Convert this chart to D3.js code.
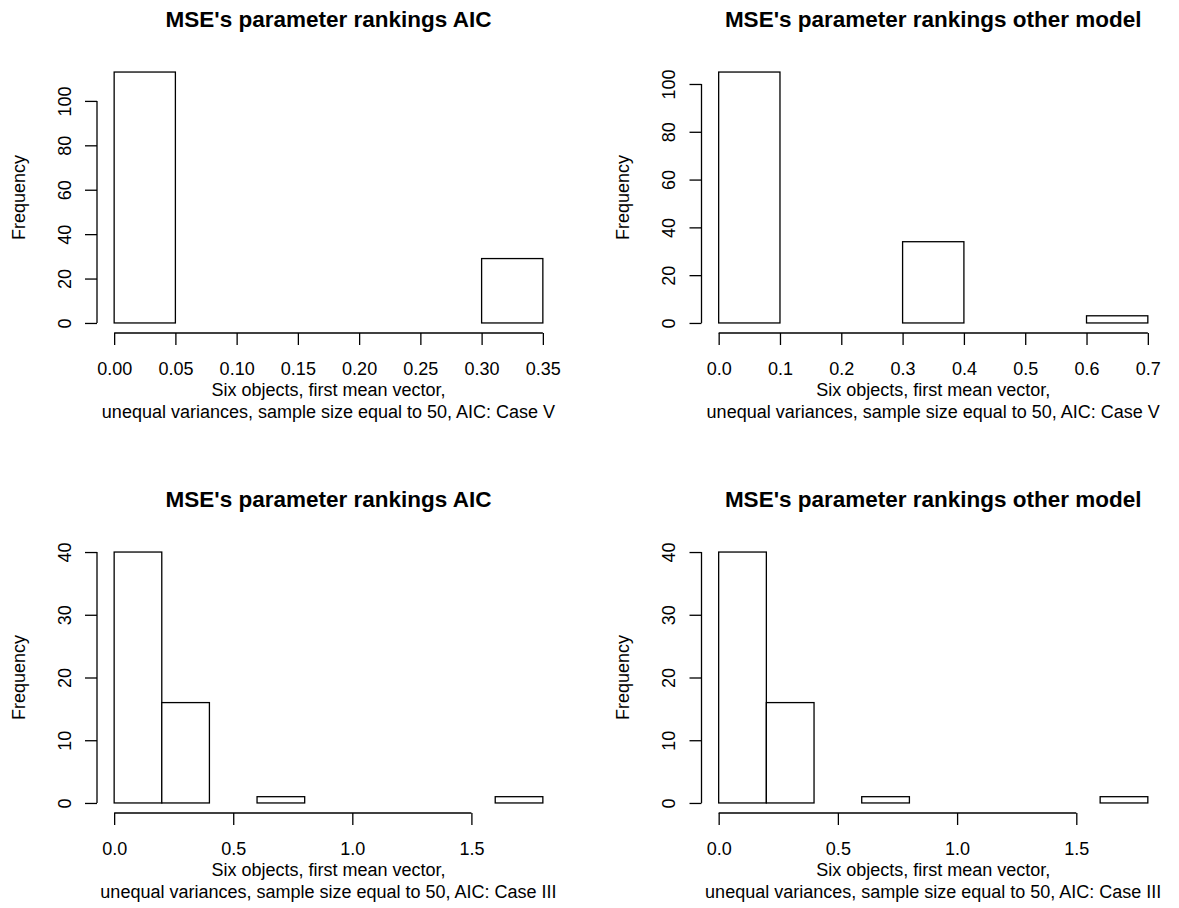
<!DOCTYPE html>
<html>
<head>
<meta charset="utf-8">
<script src="https://cdn.jsdelivr.net/npm/d3@7"></script>
<style>
  html, body { margin: 0; padding: 0; background: #ffffff; }
  svg { display: block; }
  text { font-family: "Liberation Sans", Arial, sans-serif; fill: #000; }
</style>
</head>
<body>
<svg id="chart" width="1179" height="908"></svg>
<script>
// Histogram bin edges and counts for each panel
const breaksAIC_V   = [0, 0.05, 0.10, 0.15, 0.20, 0.25, 0.30, 0.35];
const countsAIC_V   = [113, 0, 0, 0, 0, 0, 29];
const breaksOther_V = [0, 0.1, 0.2, 0.3, 0.4, 0.5, 0.6, 0.7];
const countsOther_V = [105, 0, 0, 34, 0, 0, 3];
const breaksIII     = [0, 0.2, 0.4, 0.6, 0.8, 1.0, 1.2, 1.4, 1.6, 1.8];
const countsAIC_III   = [40, 16, 0, 1, 0, 0, 0, 0, 1];
const countsOther_III = [40, 16, 0, 1, 0, 0, 0, 0, 1];

// Axis tick values and labels
const xTicksV1 = [0, 0.05, 0.10, 0.15, 0.20, 0.25, 0.30, 0.35];
const xTicksV2 = [0, 0.1, 0.2, 0.3, 0.4, 0.5, 0.6, 0.7];
const xTicksIII = [0, 0.5, 1.0, 1.5];
const yTicksV = [0, 20, 40, 60, 80, 100];
const yTicksIII = [0, 10, 20, 30, 40];

const titleAIC = "MSE's parameter rankings AIC";
const titleOther = "MSE's parameter rankings other model";
const xLabelLine1 = "Six objects, first mean vector,";
const xLabelV = "unequal variances, sample size equal to 50, AIC: Case V";
const xLabelIII = "unequal variances, sample size equal to 50, AIC: Case III";
const yLabel = "Frequency";

const panels = [
  { title: titleAIC,   breaks: breaksAIC_V,   counts: countsAIC_V,   xTicks: xTicksV1,  xFmt: d3.format(".2f"), yTicks: yTicksV,   xLab2: xLabelV,   col: 0, row: 0 },
  { title: titleOther, breaks: breaksOther_V, counts: countsOther_V, xTicks: xTicksV2,  xFmt: d3.format(".1f"), yTicks: yTicksV,   xLab2: xLabelV,   col: 1, row: 0 },
  { title: titleAIC,   breaks: breaksIII,     counts: countsAIC_III, xTicks: xTicksIII, xFmt: d3.format(".1f"), yTicks: yTicksIII, xLab2: xLabelIII, col: 0, row: 1 },
  { title: titleOther, breaks: breaksIII,     counts: countsOther_III, xTicks: xTicksIII, xFmt: d3.format(".1f"), yTicks: yTicksIII, xLab2: xLabelIII, col: 1, row: 1 }
];

// Plot-region geometry (R style: 4% padding on each axis range)
const colX = [[97, 560], [701.5, 1165]];
const rowY = [[62, 333], [542, 813]];
const tickLen = 12;
const baseFont = 18;
const titleFont = 22.5;

const svg = d3.select("#chart");

function padded(lo, hi) {
  const d = (hi - lo) * 0.04;
  return [lo - d, hi + d];
}

panels.forEach(p => {
  const [x0, x1] = colX[p.col];
  const [yTop, yBot] = rowY[p.row];
  const g = svg.append("g");

  const x = d3.scaleLinear()
    .domain(padded(p.breaks[0], p.breaks[p.breaks.length - 1]))
    .range([x0, x1]);
  const y = d3.scaleLinear()
    .domain(padded(0, d3.max(p.counts)))
    .range([yBot, yTop]);

  const bins = p.counts.map((c, i) => ({ x0: p.breaks[i], x1: p.breaks[i + 1], n: c }));

  // Bars
  g.selectAll("rect.bar")
    .data(bins)
    .enter().append("rect")
    .attr("class", "bar")
    .attr("x", d => x(d.x0))
    .attr("width", d => x(d.x1) - x(d.x0))
    .attr("y", d => y(d.n))
    .attr("height", d => y(0) - y(d.n))
    .attr("fill", "#fff")
    .attr("stroke", "#000")
    .attr("stroke-width", 1.3);

  // X axis (drawn at the bottom edge of the plot region)
  const xAxis = d3.axisBottom(x)
    .tickValues(p.xTicks)
    .tickFormat(p.xFmt)
    .tickSizeInner(tickLen)
    .tickSizeOuter(0)
    .tickPadding(17);
  const gx = g.append("g")
    .attr("transform", `translate(0,${yBot})`)
    .call(xAxis);
  gx.select(".domain").remove();
  gx.append("line")
    .attr("x1", x(p.xTicks[0])).attr("x2", x(p.xTicks[p.xTicks.length - 1]))
    .attr("y1", 0).attr("y2", 0)
    .attr("stroke", "#000").attr("stroke-width", 1.3);
  gx.selectAll(".tick line").attr("stroke", "#000").attr("stroke-width", 1.3);
  gx.selectAll(".tick text")
    .attr("font-size", baseFont)
    .attr("font-family", "Liberation Sans, Arial, sans-serif")
    .attr("fill", "#000");

  // Y axis (drawn at the left edge, labels parallel to the axis)
  const yAxis = d3.axisLeft(y)
    .tickValues(p.yTicks)
    .tickFormat(d3.format("d"))
    .tickSizeInner(tickLen)
    .tickSizeOuter(0);
  const gy = g.append("g")
    .attr("transform", `translate(${x0},0)`)
    .call(yAxis);
  gy.select(".domain").remove();
  gy.append("line")
    .attr("x1", 0).attr("x2", 0)
    .attr("y1", y(p.yTicks[0])).attr("y2", y(p.yTicks[p.yTicks.length - 1]))
    .attr("stroke", "#000").attr("stroke-width", 1.3);
  gy.selectAll(".tick line").attr("stroke", "#000").attr("stroke-width", 1.3);
  gy.selectAll(".tick text")
    .attr("font-size", baseFont)
    .attr("font-family", "Liberation Sans, Arial, sans-serif")
    .attr("fill", "#000")
    .attr("x", null).attr("dy", null)
    .attr("text-anchor", "middle")
    .attr("transform", "translate(-26.5,0) rotate(-90)");

  const cx = (x0 + x1) / 2;
  const cy = (yTop + yBot) / 2;

  // Title
  g.append("text")
    .attr("x", cx)
    .attr("y", yTop - 35)
    .attr("text-anchor", "middle")
    .attr("font-size", titleFont)
    .attr("font-weight", "bold")
    .text(p.title);

  // X label (two lines)
  g.append("text")
    .attr("x", cx).attr("y", yBot + 63)
    .attr("text-anchor", "middle")
    .attr("font-size", baseFont)
    .text(xLabelLine1);
  g.append("text")
    .attr("x", cx).attr("y", yBot + 85)
    .attr("text-anchor", "middle")
    .attr("font-size", baseFont)
    .text(p.xLab2);

  // Y label
  g.append("text")
    .attr("transform", `translate(${x0 - 72.5},${cy}) rotate(-90)`)
    .attr("text-anchor", "middle")
    .attr("font-size", baseFont)
    .text(yLabel);
});
</script>
</body>
</html>
